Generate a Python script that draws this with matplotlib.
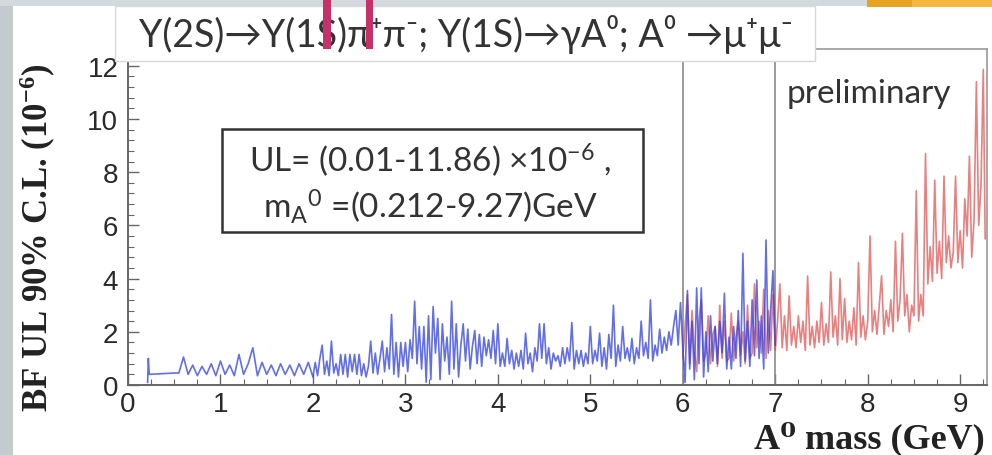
import matplotlib
matplotlib.use("Agg")
import matplotlib.pyplot as plt
from matplotlib.patches import Rectangle
from matplotlib.ticker import MultipleLocator

plt.rcParams["mathtext.default"] = "regular"

# ---------------- data ----------------
blue_mass = [0.212, 0.22, 0.23, 0.50,
             0.55, 0.60, 0.65, 0.70, 0.75, 0.80, 0.85, 0.90, 0.95, 1.00,
             1.05, 1.10, 1.15, 1.20, 1.25, 1.30, 1.35, 1.40, 1.45, 1.50,
             1.55, 1.60, 1.65, 1.70, 1.75, 1.80, 1.85, 1.90, 1.95,
             2.000, 2.025, 2.050, 2.075, 2.100, 2.125, 2.150, 2.175, 2.200, 2.225,
             2.250, 2.275, 2.300, 2.325, 2.350, 2.375, 2.400, 2.425, 2.450, 2.475,
             2.500, 2.525, 2.550, 2.575, 2.600, 2.625, 2.650, 2.675, 2.700, 2.725,
             2.750, 2.775, 2.800, 2.825, 2.850, 2.875, 2.900, 2.925, 2.950, 2.975,
             3.000, 3.025, 3.050, 3.075, 3.100, 3.125, 3.150, 3.175, 3.200, 3.225,
             3.250, 3.275, 3.300, 3.325, 3.350, 3.375, 3.400, 3.425, 3.450, 3.475,
             3.500, 3.525, 3.550, 3.575, 3.600, 3.625, 3.650, 3.675, 3.700, 3.725,
             3.750, 3.775, 3.800, 3.825, 3.850, 3.875, 3.900, 3.925, 3.950, 3.975,
             4.000, 4.025, 4.050, 4.075, 4.100, 4.125, 4.150, 4.175, 4.200, 4.225,
             4.250, 4.275, 4.300, 4.325, 4.350, 4.375, 4.400, 4.425, 4.450, 4.475,
             4.500, 4.525, 4.550, 4.575, 4.600, 4.625, 4.650, 4.675, 4.700, 4.725,
             4.750, 4.775, 4.800, 4.825, 4.850, 4.875, 4.900, 4.925, 4.950, 4.975,
             5.000, 5.025, 5.050, 5.075, 5.100, 5.125, 5.150, 5.175, 5.200, 5.225,
             5.250, 5.275, 5.300, 5.325, 5.350, 5.375, 5.400, 5.425, 5.450, 5.475,
             5.500, 5.525, 5.550, 5.575, 5.600, 5.625, 5.650, 5.675, 5.700, 5.725,
             5.750, 5.775, 5.800, 5.825, 5.850, 5.875, 5.900, 5.925, 5.950, 5.975,
             6.000, 6.025, 6.050, 6.075, 6.100, 6.125, 6.150, 6.175, 6.200, 6.225,
             6.250, 6.275, 6.300, 6.325, 6.350, 6.375, 6.400, 6.425, 6.450, 6.475,
             6.500, 6.525, 6.550, 6.575, 6.600, 6.625, 6.650, 6.675, 6.700, 6.725,
             6.750, 6.775, 6.800, 6.825, 6.850, 6.875, 6.900, 6.925, 6.950, 6.975,
             7.000]
blue_ul = [0.10, 1.00, 0.40, 0.45,
           0.45, 1.05, 0.40, 0.75, 0.35, 0.70, 0.40, 0.80, 0.35, 0.90,
           0.40, 0.75, 0.35, 1.15, 0.40, 0.80, 1.40, 0.35, 0.85, 0.40,
           0.75, 0.35, 0.80, 0.40, 0.75, 0.35, 0.80, 0.40, 0.85,
           0.30, 0.85, 0.35, 1.00, 1.50, 0.40, 0.90, 0.35, 1.65, 0.45,
           0.80, 0.35, 1.15, 0.40, 1.15, 0.30, 1.15, 0.50, 1.15, 0.40,
           1.15, 0.35, 0.80, 0.30, 0.70, 1.65, 0.45, 1.20, 0.40, 1.00,
           1.65, 0.50, 1.40, 0.60, 2.65, 0.40, 1.60, 0.30, 1.60, 0.70,
           1.60, 0.50, 1.70, 1.00, 3.15, 0.80, 2.20, 0.60, 2.20, 0.10,
           2.60, 0.20, 2.95, 1.20, 2.50, 0.20, 2.30, 0.90, 1.80, 0.40,
           3.15, 0.60, 2.30, 0.30, 1.50, 2.30, 0.90, 2.10, 0.60, 1.45,
           2.05, 0.80, 1.90, 0.70, 1.80, 1.10, 1.70, 1.00, 2.05, 0.80,
           2.30, 0.70, 1.20, 0.70, 1.75, 0.80, 1.30, 0.60, 1.20, 0.70,
           1.30, 0.60, 1.95, 0.80, 1.20, 0.50, 1.40, 0.90, 2.30, 1.00,
           2.30, 0.80, 1.40, 0.60, 1.20, 0.90, 1.10, 0.70, 1.40, 0.80,
           1.40, 0.90, 2.35, 0.60, 1.30, 0.80, 1.30, 0.70, 1.20, 0.80,
           2.20, 0.80, 1.30, 0.90, 1.95, 0.70, 1.40, 0.60, 1.90, 1.00,
           3.00, 0.70, 1.50, 0.90, 2.20, 1.00, 1.40, 0.90, 1.75, 0.80,
           1.40, 1.00, 2.40, 1.10, 1.60, 1.00, 3.20, 0.90, 1.50, 1.10,
           2.10, 1.20, 1.80, 1.30, 2.00, 1.50, 2.20, 2.80, 1.50, 3.10,
           1.40, 0.10, 3.55, 0.60, 2.40, 0.20, 3.65, 0.80, 3.65, 0.30,
           2.00, 0.50, 2.60, 0.90, 2.20, 0.80, 2.40, 1.20, 3.45, 0.60,
           1.80, 0.60, 2.20, 1.00, 2.80, 0.70, 4.95, 0.90, 2.40, 0.70,
           3.20, 1.10, 3.95, 1.00, 2.60, 0.60, 5.45, 1.20, 2.80, 4.30,
           1.50]

red_mass = [6.000, 6.025, 6.050, 6.075, 6.100, 6.125, 6.150, 6.175, 6.200, 6.225,
            6.250, 6.275, 6.300, 6.325, 6.350, 6.375, 6.400, 6.425, 6.450, 6.475,
            6.500, 6.525, 6.550, 6.575, 6.600, 6.625, 6.650, 6.675, 6.700, 6.725,
            6.750, 6.775, 6.800, 6.825, 6.850, 6.875, 6.900, 6.925, 6.950, 6.975,
            7.000, 7.025, 7.050, 7.075, 7.100, 7.125, 7.150, 7.175, 7.200, 7.225,
            7.250, 7.275, 7.300, 7.325, 7.350, 7.375, 7.400, 7.425, 7.450, 7.475,
            7.500, 7.525, 7.550, 7.575, 7.600, 7.625, 7.650, 7.675, 7.700, 7.725,
            7.750, 7.775, 7.800, 7.825, 7.850, 7.875, 7.900, 7.925, 7.950, 7.975,
            8.000, 8.025, 8.050, 8.075, 8.100, 8.125, 8.150, 8.175, 8.200, 8.225,
            8.250, 8.275, 8.300, 8.325, 8.350, 8.375, 8.400, 8.425, 8.450, 8.475,
            8.500, 8.525, 8.550, 8.575, 8.600, 8.625, 8.650, 8.675, 8.700, 8.725,
            8.750, 8.775, 8.800, 8.825, 8.850, 8.875, 8.900, 8.925, 8.950, 8.975,
            9.000, 9.025, 9.050, 9.075, 9.100, 9.125, 9.150, 9.175, 9.200, 9.225,
            9.250, 9.270]
red_ul = [1.00, 2.20, 3.40, 0.80, 2.80, 1.20, 0.50, 2.40, 3.20, 0.90,
          1.20, 2.60, 0.80, 1.90, 2.20, 0.70, 3.00, 1.00, 2.40, 0.90,
          1.00, 2.70, 0.90, 1.80, 2.40, 1.10, 2.00, 0.80, 3.00, 1.00,
          1.20, 3.80, 1.40, 2.40, 1.20, 3.60, 1.00, 2.80, 1.30, 3.40,
          1.30, 2.40, 3.80, 1.40, 2.60, 1.30, 3.35, 1.50, 2.20, 1.40,
          2.60, 1.60, 2.40, 1.30, 4.10, 1.50, 2.20, 1.40, 2.40, 1.60,
          3.10, 1.50, 2.30, 1.60, 4.25, 1.80, 2.60, 1.50, 4.00, 1.70,
          3.25, 1.60, 2.40, 1.70, 2.90, 1.50, 4.60, 1.80, 2.60, 1.70,
          2.40, 5.60, 2.00, 2.80, 1.90, 3.00, 4.10, 1.90, 2.80, 2.20,
          3.20, 2.00, 5.40, 2.40, 3.20, 5.70, 2.60, 3.40, 2.00, 3.00,
          2.60, 7.30, 2.40, 3.40, 2.60, 8.70, 3.80, 5.20, 3.90, 7.70,
          4.20, 5.40, 4.00, 7.85, 4.60, 5.60, 4.40, 5.00, 7.85, 4.60,
          5.80, 4.40, 7.00, 5.60, 8.60, 4.80, 6.20, 11.40, 6.00, 7.50,
          11.86, 5.50]

region_edges = [6.0, 7.0]
x_ticks = [0, 1, 2, 3, 4, 5, 6, 7, 8, 9]
y_ticks = [0, 2, 4, 6, 8, 10, 12]

title_text = "Υ(2S)→Υ(1S)π⁺π⁻; Υ(1S)→γA⁰; A⁰ →μ⁺μ⁻"
box_line1 = "UL= (0.01-11.86) ×10$^{-6}$ ,"
box_line2 = "m$_{A}{}^{0}$ =(0.212-9.27)GeV"
prelim_text = "preliminary"
ylabel_text = "BF UL 90% C.L. (10$^{-6}$)"
xlabel_text = "A⁰ mass (GeV)"

# ---------------- figure ----------------
W, H = 992, 456
fig = plt.figure(figsize=(W / 100, H / 100), dpi=100)
fig.patch.set_facecolor("white")


def px_rect(x0, y0, x1, y1, **kw):
    r = Rectangle((x0 / W, 1 - y1 / H), (x1 - x0) / W, (y1 - y0) / H,
                  transform=fig.transFigure, **kw)
    fig.add_artist(r)
    return r


ax = fig.add_axes([128 / W, 1 - 386 / H, (987 - 128) / W, (386 - 50) / H])
ax.set_facecolor("white")
ax.set_xlim(0, 9.29)
ax.set_ylim(0, 12.63)

ax.plot(red_mass, red_ul, color="#e04a4a", lw=1.2, alpha=0.7, zorder=3)
ax.plot(blue_mass, blue_ul, color="#2f3fe0", lw=1.2, alpha=0.75, zorder=4)
for xe in region_edges:
    ax.axvline(xe, color="#8a8a8a", lw=1.2, zorder=2)

ax.set_xticks(x_ticks)
ax.set_yticks(y_ticks)
ax.xaxis.set_minor_locator(MultipleLocator(0.25))
ax.yaxis.set_minor_locator(MultipleLocator(0.4))
ax.tick_params(which="both", direction="in", colors="#666666", labelcolor="#2a2a2a")
ax.tick_params(which="major", length=8, width=1.0)
ax.tick_params(which="minor", length=4, width=0.8)
ax.tick_params(axis="y", labelsize=20, pad=7)
ax.tick_params(axis="x", labelsize=20, pad=4)
for lab in ax.get_xticklabels() + ax.get_yticklabels():
    lab.set_fontfamily("Liberation Sans")
for side in ["left", "bottom"]:
    ax.spines[side].set_color("#666666")
    ax.spines[side].set_linewidth(1.4)
for side in ["top", "right"]:
    ax.spines[side].set_color("#9a9a9a")
    ax.spines[side].set_linewidth(1.2)

# axis labels (ROOT style, bold serif)
fig.text(38 / W, 1 - 238 / H, ylabel_text, rotation=90, ha="center", va="center",
         fontsize=25, fontweight="bold", family="Liberation Serif", color="#222222")
fig.text(985 / W, 1 - 456 / H, xlabel_text, ha="right", va="bottom",
         fontsize=26, fontweight="bold", family=["Liberation Serif", "DejaVu Serif"],
         color="#222222")

# UL text box
px_rect(222, 130, 643, 233, facecolor="white", edgecolor="#333333", lw=1.8, zorder=4)
fig.text(430 / W, 1 - 160 / H, box_line1, ha="center", va="center", fontsize=24,
         family=["Lato", "DejaVu Sans"], color="#333333", zorder=5)
fig.text(430 / W, 1 - 207 / H, box_line2, ha="center", va="center", fontsize=24,
         family=["Lato", "DejaVu Sans"], color="#333333", zorder=5)

# preliminary
fig.text(787 / W, 1 - 103 / H, prelim_text, ha="left", va="baseline", fontsize=24,
         family=["Lato", "DejaVu Sans"], color="#333333", zorder=5)

# slide background pieces
px_rect(0, 0, 13, H, facecolor="#c3cbcf", edgecolor="none", zorder=6)
px_rect(0, 0, W, 7, facecolor="#d3d9dc", edgecolor="none", zorder=6)
px_rect(867, 0, 912, 8, facecolor="#e8a323", edgecolor="none", zorder=7)
px_rect(912, 0, W, 8, facecolor="#f6b640", edgecolor="none", zorder=7)

# title box
px_rect(115, 7, 815, 62, facecolor="white", edgecolor="#d8d8d8", lw=1.0, zorder=8)
fig.text(466 / W, 1 - 35 / H, title_text, ha="center", va="center", fontsize=27,
         family=["Lato", "DejaVu Sans"], color="#333333", zorder=9)

# pink letter strokes from the slide heading above
px_rect(323, 0, 331, 50, facecolor="#c8306a", edgecolor="none", zorder=10)
px_rect(366, 0, 373, 50, facecolor="#c8306a", edgecolor="none", zorder=10)

fig.savefig("out.png", dpi=100, facecolor=fig.get_facecolor())
